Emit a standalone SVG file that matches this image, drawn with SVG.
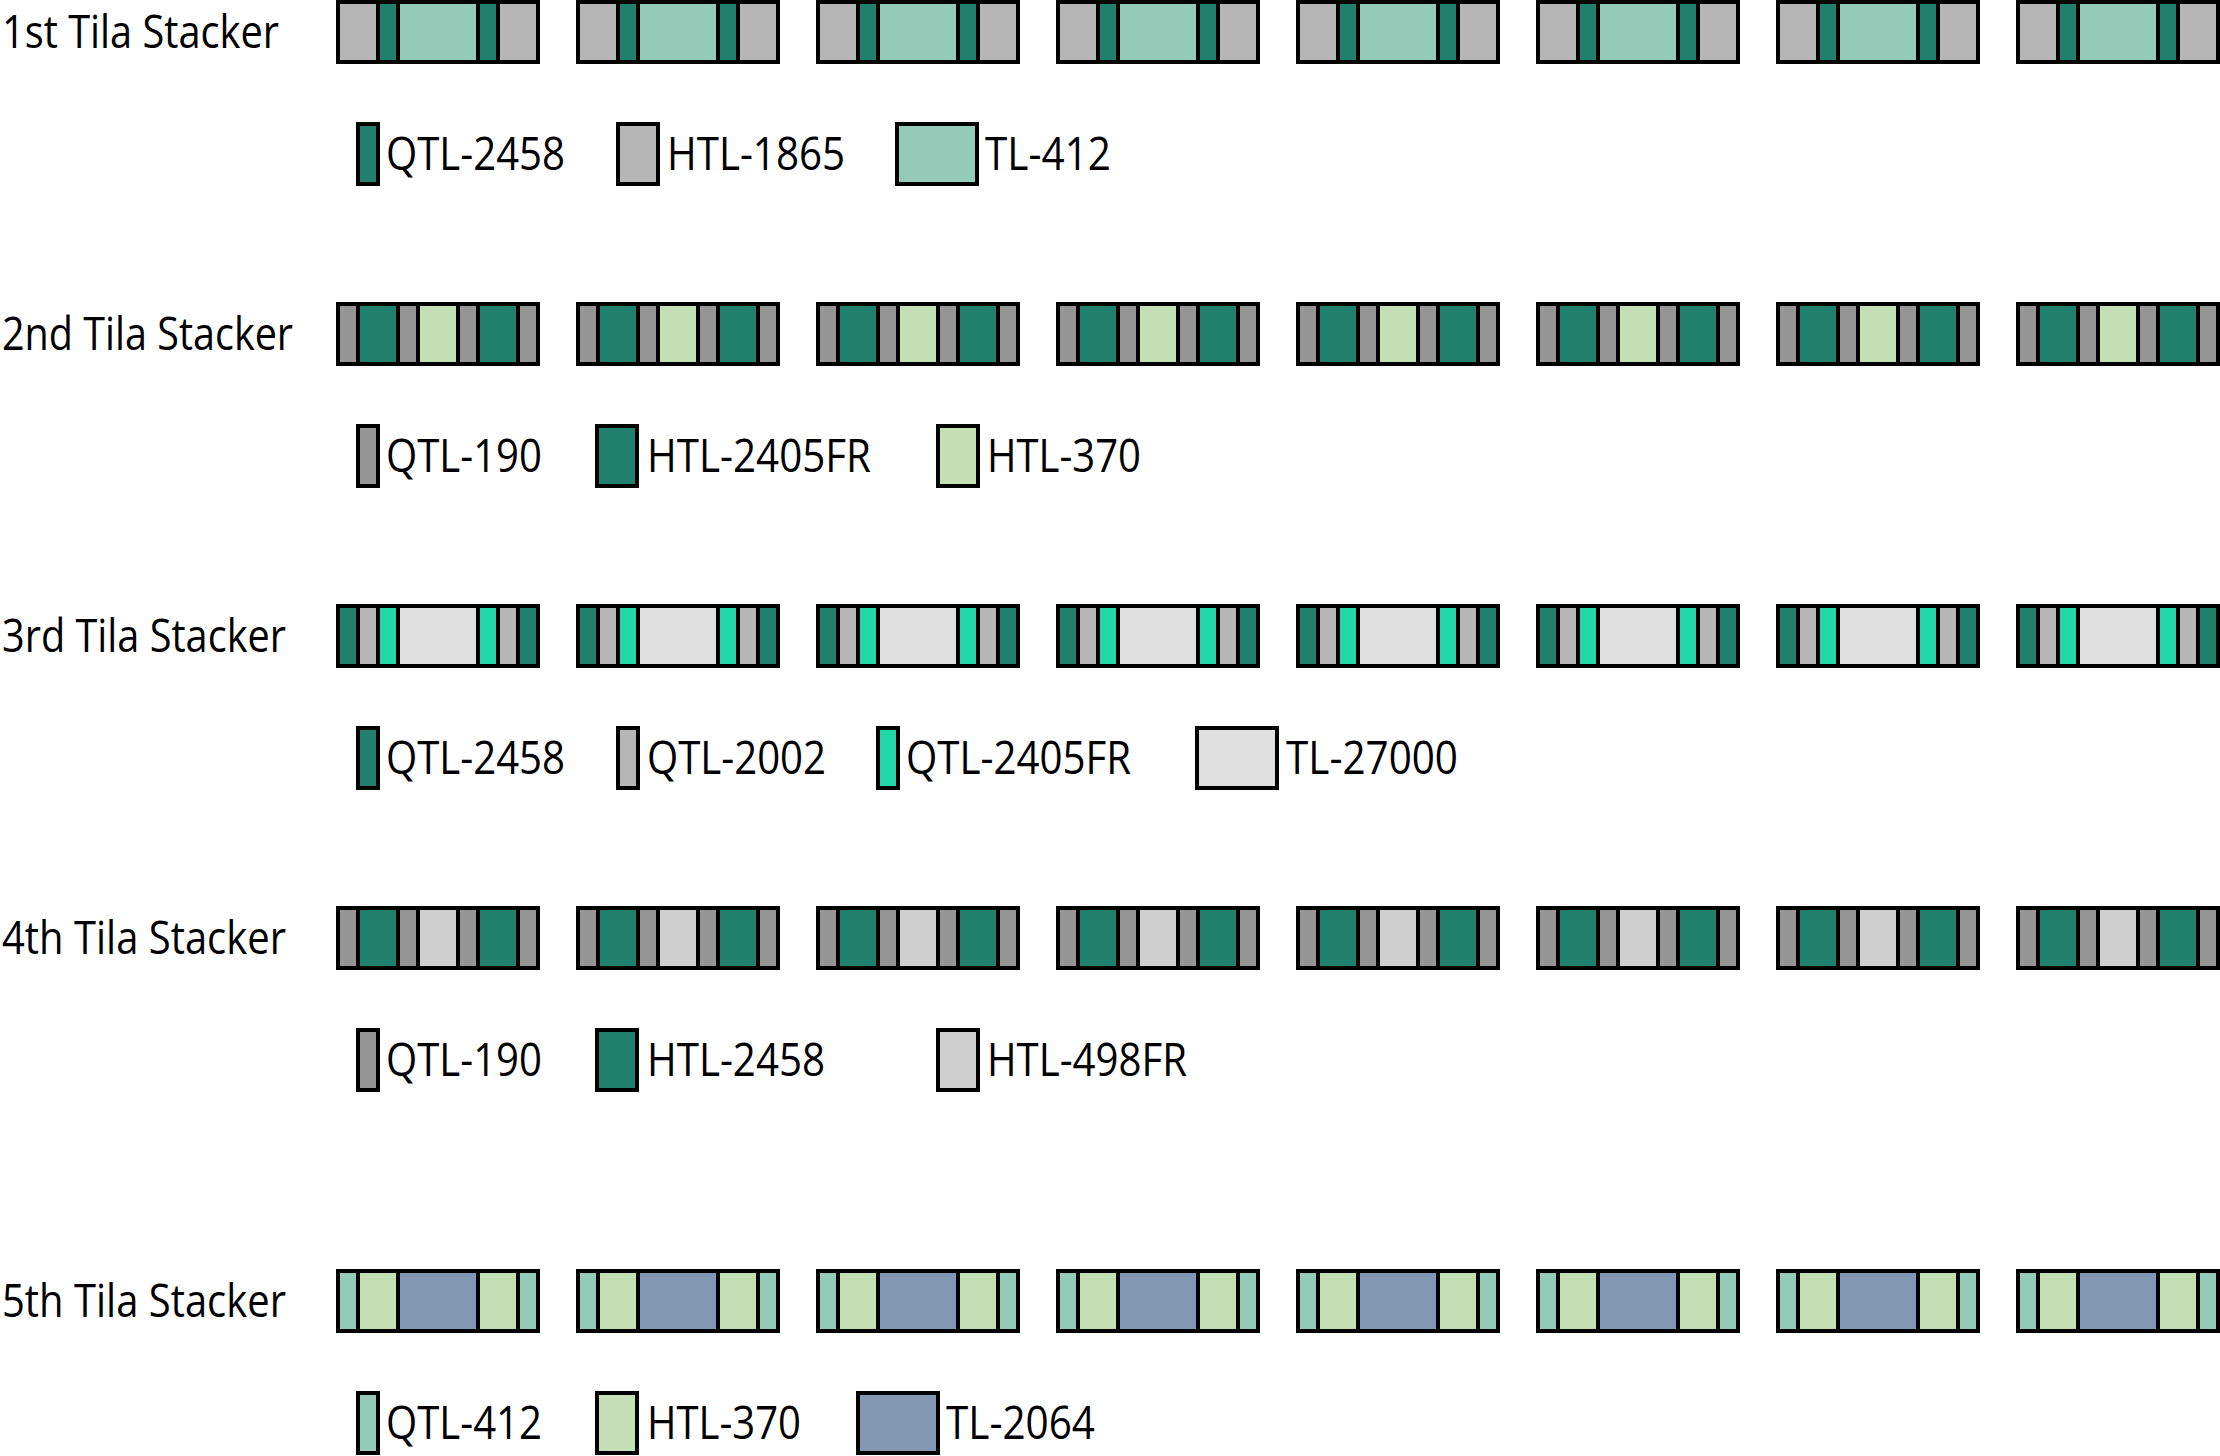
<svg xmlns="http://www.w3.org/2000/svg" xmlns:xlink="http://www.w3.org/1999/xlink" width="2220" height="1456" viewBox="0 0 2220 1456">
<style>
  .s{stroke:#000;stroke-width:4}
  .dg{fill:#20806C}
  .tl{fill:#94CAB8}
  .g1{fill:#B6B6B6}
  .g2{fill:#959595}
  .lg{fill:#C5DFB5}
  .aq{fill:#22D8A8}
  .vl{fill:#E0E0E0}
  .lc{fill:#CFCFCF}
  .bl{fill:#8297B2}
  text{font-family:"Open Sans","Liberation Sans",sans-serif;font-size:46px;fill:#000}
</style>
<defs>
  <g id="b1">
    <rect class="s g1" x="0" y="0" width="40" height="60"/>
    <rect class="s dg" x="40" y="0" width="20" height="60"/>
    <rect class="s tl" x="60" y="0" width="80" height="60"/>
    <rect class="s dg" x="140" y="0" width="20" height="60"/>
    <rect class="s g1" x="160" y="0" width="40" height="60"/>
  </g>
  <g id="b2">
    <rect class="s g2" x="0" y="0" width="20" height="60"/>
    <rect class="s dg" x="20" y="0" width="40" height="60"/>
    <rect class="s g2" x="60" y="0" width="20" height="60"/>
    <rect class="s lg" x="80" y="0" width="40" height="60"/>
    <rect class="s g2" x="120" y="0" width="20" height="60"/>
    <rect class="s dg" x="140" y="0" width="40" height="60"/>
    <rect class="s g2" x="180" y="0" width="20" height="60"/>
  </g>
  <g id="b3">
    <rect class="s dg" x="0" y="0" width="20" height="60"/>
    <rect class="s g1" x="20" y="0" width="20" height="60"/>
    <rect class="s aq" x="40" y="0" width="20" height="60"/>
    <rect class="s vl" x="60" y="0" width="80" height="60"/>
    <rect class="s aq" x="140" y="0" width="20" height="60"/>
    <rect class="s g1" x="160" y="0" width="20" height="60"/>
    <rect class="s dg" x="180" y="0" width="20" height="60"/>
  </g>
  <g id="b4">
    <rect class="s g2" x="0" y="0" width="20" height="60"/>
    <rect class="s dg" x="20" y="0" width="40" height="60"/>
    <rect class="s g2" x="60" y="0" width="20" height="60"/>
    <rect class="s lc" x="80" y="0" width="40" height="60"/>
    <rect class="s g2" x="120" y="0" width="20" height="60"/>
    <rect class="s dg" x="140" y="0" width="40" height="60"/>
    <rect class="s g2" x="180" y="0" width="20" height="60"/>
  </g>
  <g id="b5">
    <rect class="s tl" x="0" y="0" width="20" height="60"/>
    <rect class="s lg" x="20" y="0" width="40" height="60"/>
    <rect class="s bl" x="60" y="0" width="80" height="60"/>
    <rect class="s lg" x="140" y="0" width="40" height="60"/>
    <rect class="s tl" x="180" y="0" width="20" height="60"/>
  </g>
</defs>
<rect width="2220" height="1456" fill="#fff"/>

<!-- Row 1 -->
<g id="row1-label"><text x="2" y="48" textLength="277" lengthAdjust="spacingAndGlyphs">1st Tila Stacker</text></g>
<g id="row1-block1"><use xlink:href="#b1" x="338" y="2"/></g>
<g id="row1-block2"><use xlink:href="#b1" x="578" y="2"/></g>
<g id="row1-block3"><use xlink:href="#b1" x="818" y="2"/></g>
<g id="row1-block4"><use xlink:href="#b1" x="1058" y="2"/></g>
<g id="row1-block5"><use xlink:href="#b1" x="1298" y="2"/></g>
<g id="row1-block6"><use xlink:href="#b1" x="1538" y="2"/></g>
<g id="row1-block7"><use xlink:href="#b1" x="1778" y="2"/></g>
<g id="row1-block8"><use xlink:href="#b1" x="2018" y="2"/></g>
<g id="row1-legend">
  <rect class="s dg" x="358" y="124" width="20" height="60"/>
  <text x="386" y="170" textLength="179" lengthAdjust="spacingAndGlyphs">QTL-2458</text>
  <rect class="s g1" x="618" y="124" width="40" height="60"/>
  <text x="667" y="170" textLength="178" lengthAdjust="spacingAndGlyphs">HTL-1865</text>
  <rect class="s tl" x="897" y="124" width="80" height="60"/>
  <text x="985" y="170" textLength="126" lengthAdjust="spacingAndGlyphs">TL-412</text>
</g>

<!-- Row 2 -->
<g id="row2-label"><text x="2" y="350" textLength="291" lengthAdjust="spacingAndGlyphs">2nd Tila Stacker</text></g>
<g id="row2-block1"><use xlink:href="#b2" x="338" y="304"/></g>
<g id="row2-block2"><use xlink:href="#b2" x="578" y="304"/></g>
<g id="row2-block3"><use xlink:href="#b2" x="818" y="304"/></g>
<g id="row2-block4"><use xlink:href="#b2" x="1058" y="304"/></g>
<g id="row2-block5"><use xlink:href="#b2" x="1298" y="304"/></g>
<g id="row2-block6"><use xlink:href="#b2" x="1538" y="304"/></g>
<g id="row2-block7"><use xlink:href="#b2" x="1778" y="304"/></g>
<g id="row2-block8"><use xlink:href="#b2" x="2018" y="304"/></g>
<g id="row2-legend">
  <rect class="s g2" x="358" y="426" width="20" height="60"/>
  <text x="386" y="472" textLength="156" lengthAdjust="spacingAndGlyphs">QTL-190</text>
  <rect class="s dg" x="597" y="426" width="40" height="60"/>
  <text x="647" y="472" textLength="224" lengthAdjust="spacingAndGlyphs">HTL-2405FR</text>
  <rect class="s lg" x="938" y="426" width="40" height="60"/>
  <text x="987" y="472" textLength="154" lengthAdjust="spacingAndGlyphs">HTL-370</text>
</g>

<!-- Row 3 -->
<g id="row3-label"><text x="2" y="652" textLength="284" lengthAdjust="spacingAndGlyphs">3rd Tila Stacker</text></g>
<g id="row3-block1"><use xlink:href="#b3" x="338" y="606"/></g>
<g id="row3-block2"><use xlink:href="#b3" x="578" y="606"/></g>
<g id="row3-block3"><use xlink:href="#b3" x="818" y="606"/></g>
<g id="row3-block4"><use xlink:href="#b3" x="1058" y="606"/></g>
<g id="row3-block5"><use xlink:href="#b3" x="1298" y="606"/></g>
<g id="row3-block6"><use xlink:href="#b3" x="1538" y="606"/></g>
<g id="row3-block7"><use xlink:href="#b3" x="1778" y="606"/></g>
<g id="row3-block8"><use xlink:href="#b3" x="2018" y="606"/></g>
<g id="row3-legend">
  <rect class="s dg" x="358" y="728" width="20" height="60"/>
  <text x="386" y="774" textLength="179" lengthAdjust="spacingAndGlyphs">QTL-2458</text>
  <rect class="s g1" x="618" y="728" width="20" height="60"/>
  <text x="647" y="774" textLength="179" lengthAdjust="spacingAndGlyphs">QTL-2002</text>
  <rect class="s aq" x="878" y="728" width="20" height="60"/>
  <text x="906" y="774" textLength="225" lengthAdjust="spacingAndGlyphs">QTL-2405FR</text>
  <rect class="s vl" x="1197" y="728" width="80" height="60"/>
  <text x="1286" y="774" textLength="172" lengthAdjust="spacingAndGlyphs">TL-27000</text>
</g>

<!-- Row 4 -->
<g id="row4-label"><text x="2" y="954" textLength="284" lengthAdjust="spacingAndGlyphs">4th Tila Stacker</text></g>
<g id="row4-block1"><use xlink:href="#b4" x="338" y="908"/></g>
<g id="row4-block2"><use xlink:href="#b4" x="578" y="908"/></g>
<g id="row4-block3"><use xlink:href="#b4" x="818" y="908"/></g>
<g id="row4-block4"><use xlink:href="#b4" x="1058" y="908"/></g>
<g id="row4-block5"><use xlink:href="#b4" x="1298" y="908"/></g>
<g id="row4-block6"><use xlink:href="#b4" x="1538" y="908"/></g>
<g id="row4-block7"><use xlink:href="#b4" x="1778" y="908"/></g>
<g id="row4-block8"><use xlink:href="#b4" x="2018" y="908"/></g>
<g id="row4-legend">
  <rect class="s g2" x="358" y="1030" width="20" height="60"/>
  <text x="386" y="1076" textLength="156" lengthAdjust="spacingAndGlyphs">QTL-190</text>
  <rect class="s dg" x="597" y="1030" width="40" height="60"/>
  <text x="647" y="1076" textLength="178" lengthAdjust="spacingAndGlyphs">HTL-2458</text>
  <rect class="s lc" x="938" y="1030" width="40" height="60"/>
  <text x="987" y="1076" textLength="200" lengthAdjust="spacingAndGlyphs">HTL-498FR</text>
</g>

<!-- Row 5 -->
<g id="row5-label"><text x="2" y="1317" textLength="284" lengthAdjust="spacingAndGlyphs">5th Tila Stacker</text></g>
<g id="row5-block1"><use xlink:href="#b5" x="338" y="1271"/></g>
<g id="row5-block2"><use xlink:href="#b5" x="578" y="1271"/></g>
<g id="row5-block3"><use xlink:href="#b5" x="818" y="1271"/></g>
<g id="row5-block4"><use xlink:href="#b5" x="1058" y="1271"/></g>
<g id="row5-block5"><use xlink:href="#b5" x="1298" y="1271"/></g>
<g id="row5-block6"><use xlink:href="#b5" x="1538" y="1271"/></g>
<g id="row5-block7"><use xlink:href="#b5" x="1778" y="1271"/></g>
<g id="row5-block8"><use xlink:href="#b5" x="2018" y="1271"/></g>
<g id="row5-legend">
  <rect class="s tl" x="358" y="1393" width="20" height="60"/>
  <text x="386" y="1439" textLength="156" lengthAdjust="spacingAndGlyphs">QTL-412</text>
  <rect class="s lg" x="597" y="1393" width="40" height="60"/>
  <text x="647" y="1439" textLength="154" lengthAdjust="spacingAndGlyphs">HTL-370</text>
  <rect class="s bl" x="858" y="1393" width="80" height="60"/>
  <text x="946" y="1439" textLength="149" lengthAdjust="spacingAndGlyphs">TL-2064</text>
</g>

<g id="connectors"/>
</svg>
